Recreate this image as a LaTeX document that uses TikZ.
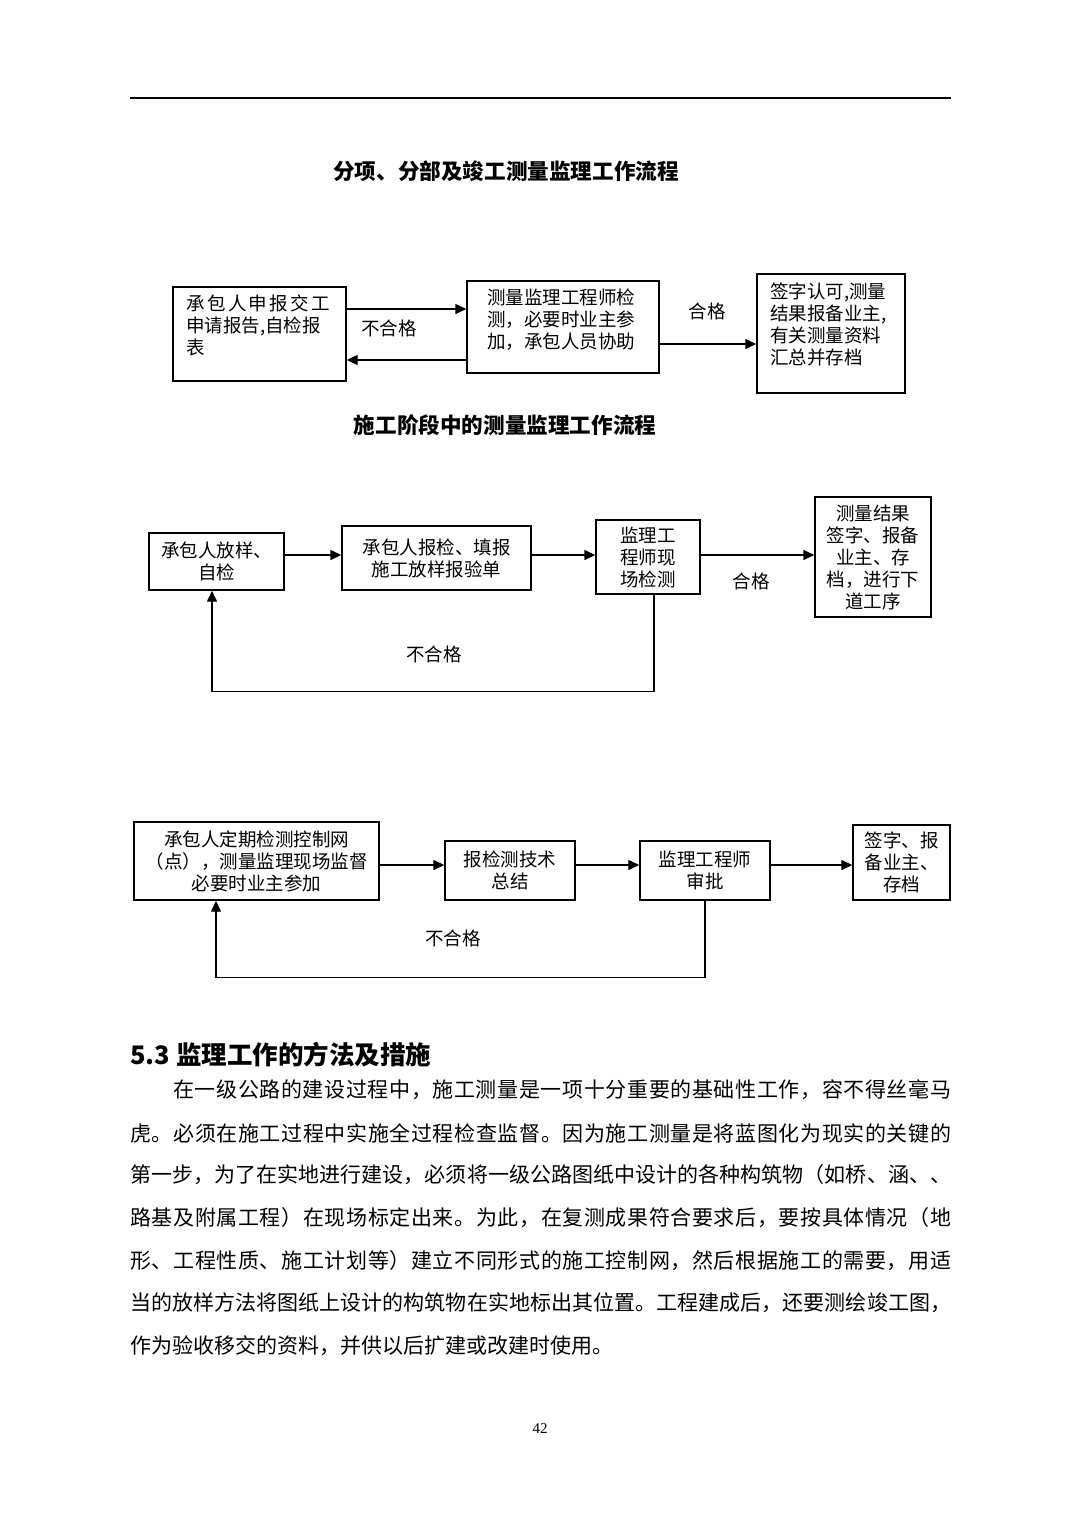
\documentclass[tikz,border=0pt]{standalone}
\usepackage{fontspec}
\setmainfont{Noto Sans CJK SC}
\newfontfamily\serifnum{Liberation Serif}
\usetikzlibrary{arrows.meta}
\hbadness=10000
\def\spreadrest#1{\ifx#1\relax\else\hfil#1\expandafter\spreadrest\fi}
\def\spreadfirst#1{#1\spreadrest}
\def\spreadline#1{\spreadfirst#1\relax}
\tikzset{
  box/.style={draw, line width=1.4pt, inner sep=0pt},
  txt/.style={inner sep=0pt, font=\fontsize{18.5}{22}\selectfont},
  lbl/.style={inner sep=0pt, font=\fontsize{18.5}{22}\selectfont},
  ttl/.style={inner sep=0pt, font=\fontsize{21.6}{25}\selectfont\bfseries},
  para/.style={inner sep=0pt, anchor=west, font=\fontsize{21}{25}\selectfont},
  arr/.style={-{Triangle[length=11pt,width=10pt]}, line width=1.4pt},
}
\begin{document}
\begin{tikzpicture}[x=1pt,y=-1pt]
\useasboundingbox (0,0) rectangle (1080,1527);
\fill[white] (0,0) rectangle (1080,1527);
% top rule
\coordinate (r1) at (130,98);
\coordinate (r2) at (951,98);
\draw[line width=1.2pt] (r1) -- (r2);

% ---------- Diagram 1 ----------
\node[ttl] (t1) at (506,171) {分项、分部及竣工测量监理工作流程};
\node[box, minimum width=173pt, minimum height=94pt] (a) at (259.5,334) {};
\node[box, minimum width=192pt, minimum height=92pt] (b) at (563,327) {};
\node[box, minimum width=148pt, minimum height=119pt] (c) at (831,333.5) {};
\node[txt, anchor=west, align=left] (ta) at (186,325.5) {\hbox to 144pt{\spreadline{承包人申报交工}}\\申请报告,自检报\\表};
\node[txt, anchor=west, align=left] (tb) at (487,320) {测量监理工程师检\\测，必要时业主参\\加，承包人员协助};
\node[txt, anchor=west, align=left] (tc) at (770,324) {签字认可,测量\\结果报备业主,\\有关测量资料\\汇总并存档};
\draw[arr] ([yshift=25pt]a.east) -- ([yshift=18pt]b.west);
\draw[arr] ([yshift=-33pt]b.west) -- ([yshift=-26pt]a.east);
\draw[arr] ([yshift=-17pt]b.east) -- ([yshift=-10.5pt]c.west);
\node[lbl] (l1) at (389,328) {不合格};
\node[lbl] (l2) at (707,311) {合格};

% ---------- Diagram 2 ----------
\node[ttl] (t2) at (505,425) {施工阶段中的测量监理工作流程};
\node[box, minimum width=135pt, minimum height=57pt, align=center, txt] (d) at (216.5,561.5) {承包人放样、\\自检};
\node[box, minimum width=189pt, minimum height=64pt, align=center, txt] (e) at (436.5,558) {承包人报检、填报\\施工放样报验单};
\node[box, minimum width=104pt, minimum height=74pt, align=center, txt] (f) at (648,557) {监理工\\程师现\\场检测};
\node[box, minimum width=116pt, minimum height=120pt, align=center, txt] (g) at (873,557) {测量结果\\签字、报备\\业主、存\\档，进行下\\道工序};
\draw[arr] ([yshift=6.5pt]d.east) -- ([yshift=3pt]e.west);
\draw[arr] ([yshift=3pt]e.east) -- ([yshift=2pt]f.west);
\draw[arr] ([yshift=2pt]f.east) -- ([yshift=2pt]g.west);
\draw[arr] ([xshift=6pt]f.south) -- ++(0,97) -| ([xshift=-4.5pt]d.south);
\node[lbl] (l3) at (751,581) {合格};
\node[lbl] (l4) at (434,654) {不合格};

% ---------- Diagram 3 ----------
\node[box, minimum width=245pt, minimum height=78pt, align=center, txt] (h) at (256.5,861) {承包人定期检测控制网\\（点），测量监理现场监督\\必要时业主参加};
\node[box, minimum width=130pt, minimum height=59pt, align=center, txt] (i) at (510,870.5) {报检测技术\\总结};
\node[box, minimum width=130pt, minimum height=59pt, align=center, txt] (j) at (705,870.5) {监理工程师\\审批};
\node[box, minimum width=97pt, minimum height=75pt, align=center, txt] (k) at (901.5,862.5) {签字、报\\备业主、\\存档};
\draw[arr] ([yshift=-4pt]h.east) -- ([yshift=5.5pt]i.west);
\draw[arr] ([yshift=5.5pt]i.east) -- ([yshift=5.5pt]j.west);
\draw[arr] ([yshift=5.5pt]j.east) -- ([yshift=-2.5pt]k.west);
\draw[arr] (j.south) -- ++(0,77) -| ([xshift=-40.5pt]h.south);
\node[lbl] (l5) at (453,938) {不合格};

% ---------- Section text ----------
\node[inner sep=0pt, anchor=west, font=\fontsize{25.5}{30}\selectfont\bfseries] (s1) at (130,1055) {5.3 监理工作的方法及措施};
\node[para] (p1) at (173,1090) {\hbox to 778pt{\spreadline{在一级公路的建设过程中，施工测量是一项十分重要的基础性工作，容不得丝毫马}}};
\node[para] (p2) at (130,1133) {\hbox to 821pt{\spreadline{虎。必须在施工过程中实施全过程检查监督。因为施工测量是将蓝图化为现实的关键的}}};
\node[para] (p3) at (130,1175) {\hbox to 821pt{\spreadline{第一步，为了在实地进行建设，必须将一级公路图纸中设计的各种构筑物（如桥、涵、、}}};
\node[para] (p4) at (130,1218) {\hbox to 821pt{\spreadline{路基及附属工程）在现场标定出来。为此，在复测成果符合要求后，要按具体情况（地}}};
\node[para] (p5) at (130,1261) {\hbox to 821pt{\spreadline{形、工程性质、施工计划等）建立不同形式的施工控制网，然后根据施工的需要，用适}}};
\node[para] (p6) at (130,1303) {\hbox to 821pt{\spreadline{当的放样方法将图纸上设计的构筑物在实地标出其位置。工程建成后，还要测绘竣工图，}}};
\node[para] (p7) at (130,1346) {作为验收移交的资料，并供以后扩建或改建时使用。};
\node[inner sep=0pt, font=\fontsize{15}{18}\selectfont\serifnum] (pg) at (540,1429) {42};
\end{tikzpicture}
\end{document}
